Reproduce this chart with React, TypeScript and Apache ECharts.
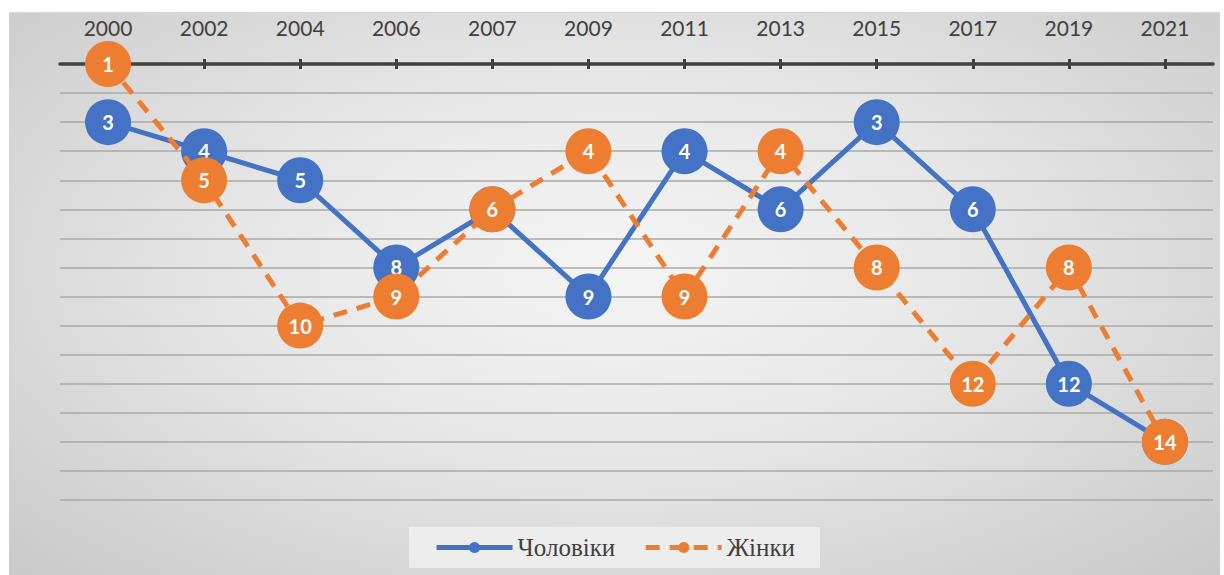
import React, { useEffect, useRef } from "react";
import * as echarts from "echarts";

const years = ["2000", "2002", "2004", "2006", "2007", "2009", "2011", "2013", "2015", "2017", "2019", "2021"];
const men = [3, 4, 5, 8, 6, 9, 4, 6, 3, 6, 12, 14];
const women = [1, 5, 10, 9, 6, 4, 9, 4, 8, 12, 8, 14];
const seriesNames = ["Чоловіки", "Жінки"];

const BLUE = "#4472C4";
const ORANGE = "#ED7D31";

export default function App() {
  const ref = useRef<HTMLDivElement>(null);
  useEffect(() => {
    if (!ref.current) return;
    const chart = echarts.init(ref.current, null, { renderer: "svg" });
    const label = {
      show: true,
      position: "inside",
      color: "#ffffff",
      fontWeight: "bold",
      fontSize: 20,
      fontFamily: "Lato",
    };
    chart.setOption({
      animation: false,
      backgroundColor: "transparent",
      grid: { left: 51, right: 7, top: 51, bottom: 76, containLabel: false },
      legend: {
        bottom: 8,
        left: "center",
        data: seriesNames,
        backgroundColor: "rgba(240,240,240,0.85)",
        padding: [8, 25],
        itemGap: 28,
        itemWidth: 76,
        itemHeight: 14,
        lineStyle: { width: 5 },
        textStyle: { fontFamily: "Liberation Serif", fontSize: 25, color: "#404040" },
      },
      xAxis: [
        {
          type: "category",
          position: "top",
          data: years,
          boundaryGap: true,
          axisLine: { show: true, lineStyle: { color: "#404040", width: 3.5 } },
          axisTick: { show: true, alignWithLabel: true, length: 5, lineStyle: { color: "#404040", width: 3 } },
          axisLabel: { color: "#404040", fontSize: 21, fontFamily: "Lato", margin: 26 },
          splitLine: { show: false },
        },
        {
          type: "category",
          position: "top",
          data: years,
          boundaryGap: true,
          axisLine: { show: false },
          axisTick: { show: true, inside: true, alignWithLabel: true, length: 5, lineStyle: { color: "#404040", width: 3 } },
          axisLabel: { show: false },
          splitLine: { show: false },
        },
      ],
      yAxis: {
        type: "value",
        inverse: true,
        min: 1,
        max: 16,
        interval: 1,
        axisLine: { show: false },
        axisTick: { show: false },
        axisLabel: { show: false },
        splitLine: { show: true, lineStyle: { color: "#a8a8a8", width: 1.6 } },
      },
      series: [
        {
          name: seriesNames[0],
          type: "line",
          data: men,
          symbol: "circle",
          symbolSize: 46,
          itemStyle: { color: BLUE },
          lineStyle: { color: BLUE, width: 5 },
          label,
          z: 2,
        },
        {
          name: seriesNames[1],
          type: "line",
          data: women,
          symbol: "circle",
          symbolSize: 46,
          itemStyle: { color: ORANGE },
          lineStyle: { color: ORANGE, width: 5, type: [14, 10] },
          label,
          z: 3,
        },
      ],
    });
    return () => chart.dispose();
  }, []);
  return (
    <div style={{ position: "absolute", left: 0, top: 0, width: 1224, height: 575, background: "#ffffff" }}>
      <div
        style={{
          position: "absolute",
          left: 9,
          top: 12,
          width: 1211,
          height: 563,
          background: "radial-gradient(ellipse at 50% 45%, #f5f5f5 0%, #e6e6e6 45%, #c9c9c9 100%)",
          borderTop: "1px solid #d8d8d8",
        }}
      >
        <div ref={ref} style={{ width: 1211, height: 563 }} />
      </div>
    </div>
  );
}
